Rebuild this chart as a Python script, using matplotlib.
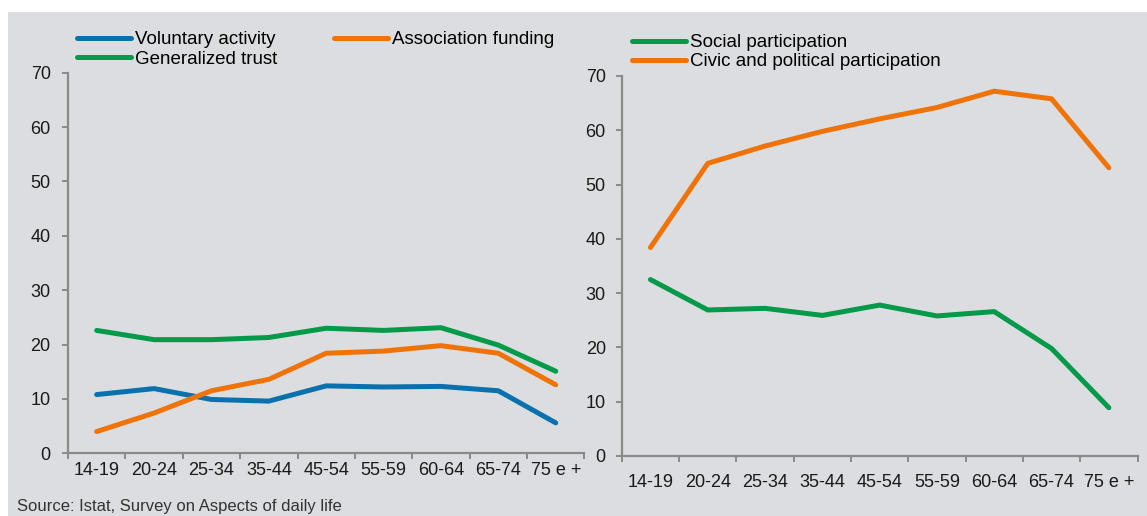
import numpy as np
import matplotlib.pyplot as plt
from matplotlib.patches import Rectangle

plt.rcParams['font.family'] = ['Liberation Sans', 'DejaVu Sans']

age_groups = ['14-19', '20-24', '25-34', '35-44', '45-54', '55-59', '60-64', '65-74', '75 e +']

voluntary_activity = [10.8, 11.9, 9.9, 9.6, 12.4, 12.2, 12.3, 11.5, 5.6]
association_funding = [4.0, 7.4, 11.5, 13.6, 18.4, 18.8, 19.8, 18.4, 12.6]
generalized_trust = [22.6, 20.9, 20.9, 21.3, 23.0, 22.6, 23.1, 19.9, 15.1]

social_participation = [32.5, 26.9, 27.2, 25.9, 27.8, 25.8, 26.6, 19.8, 8.9]
civic_political = [38.4, 53.9, 57.1, 59.8, 62.1, 64.2, 67.2, 65.8, 53.1]

yticks = [0, 10, 20, 30, 40, 50, 60, 70]

BLUE = '#0a71ad'
ORANGE = '#ef7309'
GREEN = '#05994a'
BG = '#dcdde0'
AXIS = '#8a8a8a'
TEXT = '#1a1a1a'

W, H = 1147, 516
fig = plt.figure(figsize=(W / 100, H / 100), dpi=100)
fig.patch.set_facecolor('white')
fig.patches.append(Rectangle((8 / W, 0), 1, 1 - 12 / H, transform=fig.transFigure,
                             facecolor=BG, edgecolor='none', zorder=-10))


def px_axes(x0, x1, ytop, ybot):
    return fig.add_axes([x0 / W, 1 - ybot / H, (x1 - x0) / W, (ybot - ytop) / H])


def style_axes(ax, ypad, xpad):
    x = np.arange(len(age_groups)) + 0.5
    ax.set_facecolor('none')
    ax.set_xlim(0, len(age_groups))
    ax.set_ylim(0, 70)
    ax.set_yticks(yticks)
    ax.set_xticks(np.arange(len(age_groups) + 1))
    ax.set_xticklabels([])
    ax.set_xticks(x, minor=True)
    ax.set_xticklabels(age_groups, minor=True)
    for side in ['top', 'right']:
        ax.spines[side].set_visible(False)
    for side in ['left', 'bottom']:
        ax.spines[side].set_color(AXIS)
        ax.spines[side].set_linewidth(1.6)
    ax.tick_params(axis='y', colors=AXIS, labelcolor=TEXT, labelsize=13,
                   length=4.5, width=1.4, pad=ypad)
    ax.tick_params(axis='x', which='major', colors=AXIS, length=4.5, width=1.4)
    ax.tick_params(axis='x', which='minor', length=0, labelcolor=TEXT,
                   labelsize=13, pad=xpad)
    return x


line_kw = dict(linewidth=3.6, solid_capstyle='round', solid_joinstyle='round')
leg_kw = dict(loc='upper left', frameon=False, fontsize=13.5, handlelength=2.9,
              handletextpad=0.2, labelspacing=0.12, borderaxespad=0, borderpad=0)

# left panel: voluntary activity, funding, trust
ax1 = px_axes(68, 584.4, 72.7, 453.3)
x = style_axes(ax1, 8, 6)
l_va, = ax1.plot(x, voluntary_activity, color=BLUE, **line_kw)
l_af, = ax1.plot(x, association_funding, color=ORANGE, **line_kw)
l_gt, = ax1.plot(x, generalized_trust, color=GREEN, **line_kw)
fig.legend([l_va, l_gt, l_af], ['Voluntary activity', 'Generalized trust', 'Association funding'],
           ncol=2, columnspacing=3.0, bbox_to_anchor=(77 / W, 1 - 31 / H), **leg_kw)

# right panel: social and civic participation
ax2 = px_axes(621.8, 1137.5, 76, 456)
x = style_axes(ax2, 7, 13)
l_sp, = ax2.plot(x, social_participation, color=GREEN, **line_kw)
l_cp, = ax2.plot(x, civic_political, color=ORANGE, **line_kw)
fig.legend([l_sp, l_cp], ['Social participation', 'Civic and political participation'],
           ncol=1, bbox_to_anchor=(632 / W, 1 - 34 / H), **leg_kw)

fig.text(17 / W, 1 - 507 / H, 'Source: Istat, Survey on Aspects of daily life',
         fontsize=12, color='#333333', va='center', ha='left')

fig.savefig('out.png', dpi=100, facecolor=fig.get_facecolor())
